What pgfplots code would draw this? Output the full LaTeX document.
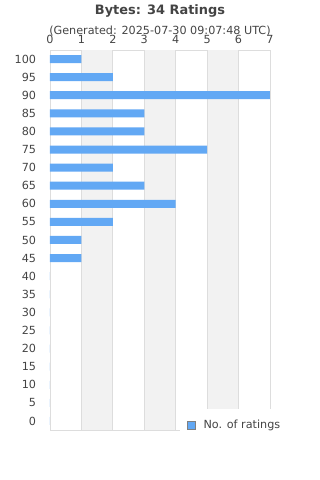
\documentclass[border=0pt]{standalone}
\usepackage{pgfplots}
\pgfplotsset{compat=1.18}
\usepackage{fontspec}
\setmainfont{DejaVu Sans}
\definecolor{txt}{HTML}{444444}
\definecolor{barblue}{HTML}{62A8F4}
\definecolor{band}{HTML}{F2F2F2}
\definecolor{gridc}{HTML}{DDDDDD}
\begin{document}
\begin{tikzpicture}
\useasboundingbox (0pt,0pt) rectangle (240pt,360pt);
\node[font=\fontsize{9.7}{12}\selectfont\bfseries, text=txt] at (120pt,351.5pt) {Bytes: 34 Ratings};
\node[font=\fontsize{8.4}{10}\selectfont, text=txt] at (120pt,337pt) {(Generated: 2025-07-30 09:07:48 UTC)};
\begin{axis}[
  at={(37.5pt,37.5pt)}, anchor=south west,
  scale only axis, width=165pt, height=285pt,
  xbar, bar width=6pt,
  xmin=0, xmax=7, ymin=-2.5, ymax=102.5,
  xtick={0,1,...,7}, ytick={0,5,...,100},
  xticklabel pos=right,
  axis line style={gridc},
  tick style={draw=none},
  ticklabel style={font=\fontsize{8.4}{10}\selectfont, text=txt},
  /pgf/number format/assume math mode=true,
  tick label style={inner sep=1pt},
  x tick label style={yshift=3.5pt},
  y tick label style={xshift=-5pt},
  legend style={at={(0.59,0.055)}, anchor=north west, draw=none, fill=white,
    font=\fontsize{8.4}{10}\selectfont, text=txt, inner xsep=5pt, inner ysep=6pt,
    nodes={inner xsep=6pt}},
  legend image code/.code={\draw[#1, draw=gray, line width=0.6pt] (0pt,-3pt) rectangle (6pt,3pt);},
]
\fill[band] (axis cs:1,-2.5) rectangle (axis cs:2,102.5);
\fill[band] (axis cs:3,-2.5) rectangle (axis cs:4,102.5);
\fill[band] (axis cs:5,-2.5) rectangle (axis cs:6,102.5);
\draw[gridc, line width=0.6pt] (axis cs:1,-2.5) -- (axis cs:1,102.5);
\draw[gridc, line width=0.6pt] (axis cs:2,-2.5) -- (axis cs:2,102.5);
\draw[gridc, line width=0.6pt] (axis cs:3,-2.5) -- (axis cs:3,102.5);
\draw[gridc, line width=0.6pt] (axis cs:4,-2.5) -- (axis cs:4,102.5);
\draw[gridc, line width=0.6pt] (axis cs:5,-2.5) -- (axis cs:5,102.5);
\draw[gridc, line width=0.6pt] (axis cs:6,-2.5) -- (axis cs:6,102.5);
\addplot[fill=barblue, draw=none] coordinates {
(1,100) (2,95) (7,90) (3,85) (3,80) (5,75) (2,70) (3,65) (4,60) (2,55) (1,50) (1,45)
(0,40) (0,35) (0,30) (0,25) (0,20) (0,15) (0,10) (0,5) (0,0)};
\addlegendentry{No. of ratings}
\end{axis}
\end{tikzpicture}
\end{document}
